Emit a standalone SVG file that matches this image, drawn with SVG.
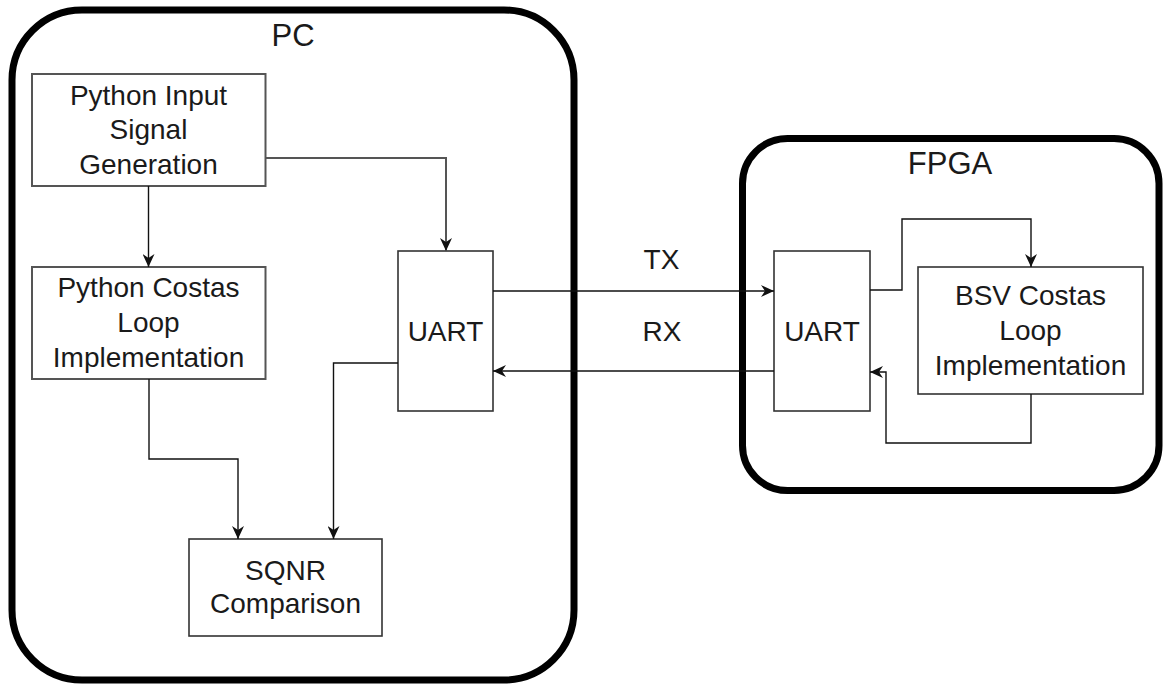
<svg xmlns="http://www.w3.org/2000/svg" width="1163" height="686" viewBox="0 0 1163 686">
  <style>
    .container { fill: #ffffff; stroke: #000000; stroke-width: 7; }
    .box { fill: #ffffff; stroke: #333333; stroke-width: 1.6; }
    .box.gray { stroke: #555555; stroke-width: 2; }
    .label { font-family: "Liberation Sans", Arial, sans-serif; font-size: 28px; fill: #1a1a1a; text-anchor: middle; }
    .title { font-family: "Liberation Sans", Arial, sans-serif; font-size: 31px; fill: #1a1a1a; text-anchor: middle; }
    .conn { fill: none; stroke: #111111; stroke-width: 1.4; }
    .conn.gray { stroke: #555555; stroke-width: 2; }
  </style>
  <defs>
    <marker id="arrow" viewBox="0 0 13 12" refX="13" refY="6" markerWidth="13" markerHeight="12" markerUnits="userSpaceOnUse" orient="auto">
      <path d="M0,0 L13,6 L0,12 L4,6 Z" fill="#111111"/>
    </marker>
  </defs>
  <rect width="1163" height="686" fill="#ffffff"/>

  <g id="pc">
    <rect class="container" x="12" y="10" width="562" height="670" rx="70" ry="70"/>
    <text class="title" x="293" y="46">PC</text>
  </g>
  <g id="fpga">
    <rect class="container" x="742.5" y="138.5" width="416.5" height="352" rx="45" ry="45"/>
    <text class="title" x="950" y="174">FPGA</text>
  </g>

  <g id="input-gen">
    <rect class="box gray" x="32" y="74" width="233.5" height="112"/>
    <text class="label" x="148.5" y="105">Python Input</text>
    <text class="label" x="148.5" y="139">Signal</text>
    <text class="label" x="148.5" y="174">Generation</text>
  </g>
  <g id="python-costas">
    <rect class="box gray" x="32" y="267" width="233.5" height="112"/>
    <text class="label" x="148.5" y="297">Python Costas</text>
    <text class="label" x="148.5" y="332">Loop</text>
    <text class="label" x="148.5" y="367">Implementation</text>
  </g>
  <g id="uart-pc">
    <rect class="box" x="398" y="251" width="95" height="160"/>
    <text class="label" x="445.5" y="341">UART</text>
  </g>
  <g id="sqnr">
    <rect class="box" x="189" y="539" width="193" height="97"/>
    <text class="label" x="285.5" y="580">SQNR</text>
    <text class="label" x="285.5" y="613">Comparison</text>
  </g>
  <g id="uart-fpga">
    <rect class="box" x="774" y="251" width="96" height="160"/>
    <text class="label" x="822" y="341">UART</text>
  </g>
  <g id="bsv-costas">
    <rect class="box" x="918" y="267" width="225" height="127"/>
    <text class="label" x="1030.5" y="305">BSV Costas</text>
    <text class="label" x="1030.5" y="340">Loop</text>
    <text class="label" x="1030.5" y="375">Implementation</text>
  </g>

  <g id="connectors">
    <path class="conn gray" d="M265.5,158 H446 V251" marker-end="url(#arrow)"/>
    <path class="conn" d="M148.5,186 V267" marker-end="url(#arrow)"/>
    <path class="conn" d="M149,379 V459 H238 V539" marker-end="url(#arrow)"/>
    <path class="conn" d="M398,363 H333.5 V539" marker-end="url(#arrow)"/>
    <path class="conn" d="M493,291 H774" marker-end="url(#arrow)"/>
    <path class="conn" d="M774,371 H493" marker-end="url(#arrow)"/>
    <path class="conn" d="M870,290 H902 V219 H1031 V267" marker-end="url(#arrow)"/>
    <path class="conn" d="M1031,394 V443 H886 V372 H870" marker-end="url(#arrow)"/>
    <text class="label" x="661.5" y="269">TX</text>
    <text class="label" x="662" y="341">RX</text>
  </g>
</svg>
